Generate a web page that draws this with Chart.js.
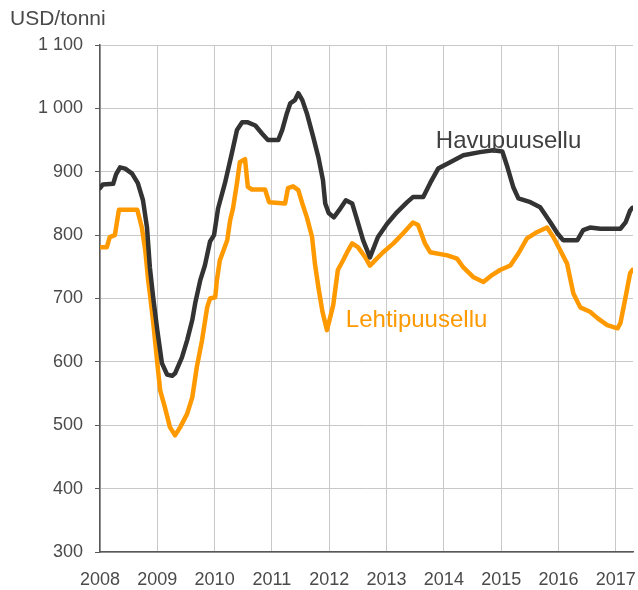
<!DOCTYPE html>
<html lang="fi">
<head>
<meta charset="utf-8">
<title>Sellun hinta</title>
<script src="https://cdn.jsdelivr.net/npm/chart.js@4/dist/chart.umd.min.js"></script>
<style>
  html, body { margin: 0; padding: 0; background: #fff; }
  #wrap { position: relative; width: 638px; height: 590px; }
</style>
</head>
<body>
<div id="wrap"><canvas id="pulp-chart" width="638" height="590"></canvas></div>
<script>
'use strict';

// ─────────────────────────────────────────────
// DATA (decimal years, USD/tonni)
// ─────────────────────────────────────────────

const havuYears = [
  2008.00, 2008.05, 2008.23, 2008.28, 2008.35, 2008.44, 2008.56, 2008.66, 2008.75, 2008.82,
  2008.87, 2008.93, 2009.00, 2009.08, 2009.17, 2009.26, 2009.31, 2009.43, 2009.52, 2009.61,
  2009.66, 2009.75, 2009.83, 2009.92, 2009.99, 2010.06, 2010.18, 2010.30, 2010.39, 2010.48,
  2010.58, 2010.71, 2010.83, 2010.93, 2011.11, 2011.18, 2011.26, 2011.32, 2011.40, 2011.46,
  2011.53, 2011.61, 2011.72, 2011.81, 2011.89, 2011.93, 2011.99, 2012.08, 2012.17, 2012.29,
  2012.40, 2012.49, 2012.59, 2012.71, 2012.85, 2013.01, 2013.18, 2013.36, 2013.46, 2013.64,
  2013.76, 2013.90, 2014.11, 2014.34, 2014.63, 2014.86, 2015.02, 2015.11, 2015.21, 2015.30,
  2015.51, 2015.68, 2015.86, 2015.98, 2016.08, 2016.33, 2016.43, 2016.55, 2016.73, 2017.08,
  2017.17, 2017.25, 2017.29
];
const havuValues = [
  874, 880, 881, 896, 907, 905, 897, 882, 855, 812,
  749, 700, 650, 598, 580, 578, 582, 607, 634, 666,
  692, 729, 752, 790, 800, 842, 882, 929, 966, 978,
  978, 973, 960, 950, 950, 966, 992, 1008, 1013, 1024,
  1013, 992, 955, 923, 887, 850, 835, 828, 839, 855,
  850, 823, 792, 765, 797, 818, 836, 852, 860, 860,
  882, 905, 915, 926, 931, 934, 932, 907, 876, 858,
  852, 844, 820, 803, 792, 792, 808, 812, 810, 810,
  820, 839, 843
];

const lehtiYears = [
  2008.00, 2008.12, 2008.17, 2008.26, 2008.30, 2008.33, 2008.65, 2008.73, 2008.79, 2008.84,
  2008.87, 2008.93, 2009.00, 2009.05, 2009.13, 2009.22, 2009.31, 2009.40, 2009.52, 2009.61,
  2009.69, 2009.78, 2009.87, 2009.92, 2010.01, 2010.04, 2010.09, 2010.22, 2010.27, 2010.32,
  2010.39, 2010.44, 2010.53, 2010.58, 2010.65, 2010.88, 2010.95, 2011.23, 2011.28, 2011.37,
  2011.46, 2011.53, 2011.61, 2011.70, 2011.75, 2011.81, 2011.88, 2011.96, 2012.07, 2012.15,
  2012.24, 2012.33, 2012.40, 2012.50, 2012.63, 2012.71, 2012.80, 2012.94, 2013.12, 2013.29,
  2013.46, 2013.55, 2013.67, 2013.76, 2014.06, 2014.23, 2014.34, 2014.51, 2014.69, 2014.84,
  2014.98, 2015.16, 2015.30, 2015.45, 2015.63, 2015.80, 2015.91, 2016.03, 2016.15, 2016.21,
  2016.26, 2016.38, 2016.55, 2016.68, 2016.85, 2017.03, 2017.08, 2017.17, 2017.25, 2017.29
];
const lehtiValues = [
  781, 781, 797, 800, 823, 840, 840, 812, 776, 729,
  708, 661, 598, 555, 529, 497, 484, 497, 518, 544,
  592, 634, 686, 700, 702, 729, 760, 792, 823, 842,
  882, 915, 920, 876, 872, 872, 852, 850, 874, 877,
  871, 850, 828, 797, 755, 718, 680, 650, 690, 745,
  760, 776, 787, 781, 765, 752, 760, 773, 787, 803,
  820, 816, 787, 773, 768, 763, 749, 734, 726, 737,
  745, 752, 771, 795, 805, 812, 797, 776, 755, 729,
  708, 686, 679, 669, 658, 653, 661, 702, 740, 745
];

const yearTicks = [2008, 2009, 2010, 2011, 2012, 2013, 2014, 2015, 2016, 2017];
const yMin = 300, yMax = 1100, yStep = 100;
const xMin = 2008, xMax = 2017.3;

// Labels sit in data coordinates: [x year, y baseline value]
const havuLabel  = { text: 'Havupuusellu',  at: [2013.86, 937], color: '#404040' };
const lehtiLabel = { text: 'Lehtipuusellu', at: [2012.29, 655], color: '#FF9900' };
const unitTitle  = 'USD/tonni';

// ─────────────────────────────────────────────
// COLOURS / FONTS
// ─────────────────────────────────────────────

const FONT        = '"Liberation Sans", Arial, sans-serif';
const TEXT_COLOR  = '#4a4a4a';
const GRID_COLOR  = '#c8c8c8';
const AXIS_COLOR  = '#595959';
const HAVU_COLOR  = '#333333';
const LEHTI_COLOR = '#FF9900';

// ─────────────────────────────────────────────
// PLUGINS
// ─────────────────────────────────────────────

const textPlugin = {
  id: 'pulpText',
  afterDatasetsDraw(chart) {
    const { ctx, scales: { x, y } } = chart;
    ctx.save();
    ctx.textBaseline = 'alphabetic';
    ctx.textAlign = 'left';

    ctx.font = `21px ${FONT}`;
    ctx.fillStyle = TEXT_COLOR;
    ctx.fillText(unitTitle, 10, 25);

    ctx.font = `24px ${FONT}`;
    [havuLabel, lehtiLabel].forEach(l => {
      ctx.fillStyle = l.color;
      ctx.fillText(l.text, x.getPixelForValue(l.at[0]), y.getPixelForValue(l.at[1]));
    });
    ctx.restore();
  }
};

function toPoints(xs, ys) {
  return xs.map((xv, i) => ({ x: xv, y: ys[i] }));
}

function fmtThousands(v) {
  return String(v).replace(/\B(?=(\d{3})+(?!\d))/g, ' ');
}

// ─────────────────────────────────────────────
// CHART
// ─────────────────────────────────────────────

const ctx = document.getElementById('pulp-chart').getContext('2d');
new Chart(ctx, {
  type: 'line',
  data: {
    datasets: [
      {
        label: 'Havupuusellu',
        data: toPoints(havuYears, havuValues),
        borderColor: HAVU_COLOR,
        borderWidth: 4.5,
        pointRadius: 0,
        tension: 0,
        borderJoinStyle: 'round',
        borderCapStyle: 'round',
      },
      {
        label: 'Lehtipuusellu',
        data: toPoints(lehtiYears, lehtiValues),
        borderColor: LEHTI_COLOR,
        borderWidth: 4.5,
        pointRadius: 0,
        tension: 0,
        borderJoinStyle: 'round',
        borderCapStyle: 'round',
      },
    ]
  },
  options: {
    responsive: false,
    animation: false,
    layout: { padding: { top: 45, right: 5, bottom: 0, left: 0 } },
    plugins: {
      legend: { display: false },
      tooltip: { enabled: false },
    },
    scales: {
      x: {
        type: 'linear',
        min: xMin,
        max: xMax,
        afterFit: s => { s.height = 38; s.paddingLeft = 0; s.paddingRight = 0; },
        afterBuildTicks: s => { s.ticks = yearTicks.map(v => ({ value: v })); },
        ticks: {
          includeBounds: false,
          padding: 17,
          color: TEXT_COLOR,
          font: { family: FONT, size: 18 },
          maxRotation: 0,
          callback: v => String(v),
        },
        grid: { color: GRID_COLOR, lineWidth: 1, drawTicks: false },
        border: { color: AXIS_COLOR, width: 1.5 },
      },
      y: {
        min: yMin,
        max: yMax,
        afterFit: s => { s.width = 100; },
        ticks: {
          stepSize: yStep,
          padding: 12,
          color: TEXT_COLOR,
          font: { family: FONT, size: 18 },
          callback: v => fmtThousands(v),
        },
        grid: { color: GRID_COLOR, lineWidth: 1, tickLength: 5, tickColor: AXIS_COLOR },
        border: { color: AXIS_COLOR, width: 1.5 },
      }
    }
  },
  plugins: [textPlugin]
});
</script>
</body>
</html>
